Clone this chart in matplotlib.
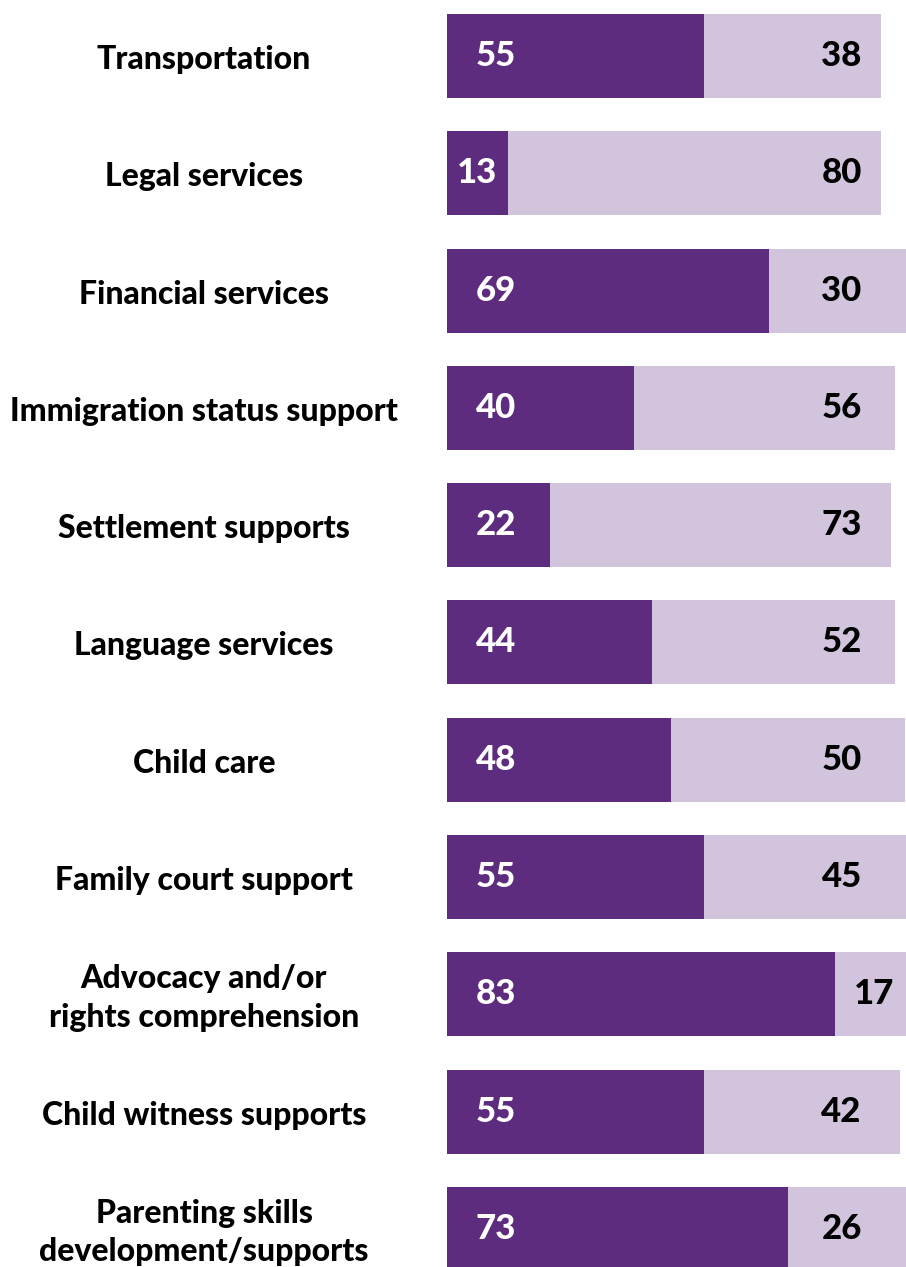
import matplotlib.pyplot as plt
import matplotlib.transforms as mtransforms

# survey results per service, in percent
services = [
    "Transportation",
    "Legal services",
    "Financial services",
    "Immigration status support",
    "Settlement supports",
    "Language services",
    "Child care",
    "Family court support",
    "Advocacy and/or\nrights comprehension",
    "Child witness supports",
    "Parenting skills\ndevelopment/supports",
]
dark_vals = [55, 13, 69, 40, 22, 44, 48, 55, 83, 55, 73]
light_vals = [38, 80, 30, 56, 73, 52, 50, 45, 17, 42, 26]

dark_color = "#5E2C7E"
light_color = "#D1C4DC"
font = "Lato"

fig = plt.figure(figsize=(9.06, 12.67), dpi=100)
# bar area runs from 447px; 100% lands just past the right edge
ax = fig.add_axes([447 / 906, 0, 467 / 906, 1])
ax.set_xlim(0, 100)
ax.set_ylim(10.324, -0.477)
ax.axis("off")

ypos = list(range(len(services)))
ax.barh(ypos, dark_vals, height=0.716, color=dark_color)
ax.barh(ypos, light_vals, left=dark_vals, height=0.716, color=light_color)

for i, (d, l) in enumerate(zip(dark_vals, light_vals)):
    # numbers sit near the bar ends, but stay centred inside short segments
    dx = min(10.5, d / 2)
    lx = 84.5 if l >= 20 else d + l / 2
    ax.text(dx, i, str(d), color="white", fontsize=25, fontweight="black",
            family=font, ha="center", va="center")
    ax.text(lx, i, str(l), color="black", fontsize=25, fontweight="black",
            family=font, ha="center", va="center")

trans = mtransforms.blended_transform_factory(fig.transFigure, ax.transData)
for i, name in enumerate(services):
    ax.text(204 / 906, i + 0.03, name, transform=trans, fontsize=23,
            fontweight="black", family=font, ha="center", va="center",
            linespacing=1.4, color="black")

fig.savefig("out.png", dpi=100)
